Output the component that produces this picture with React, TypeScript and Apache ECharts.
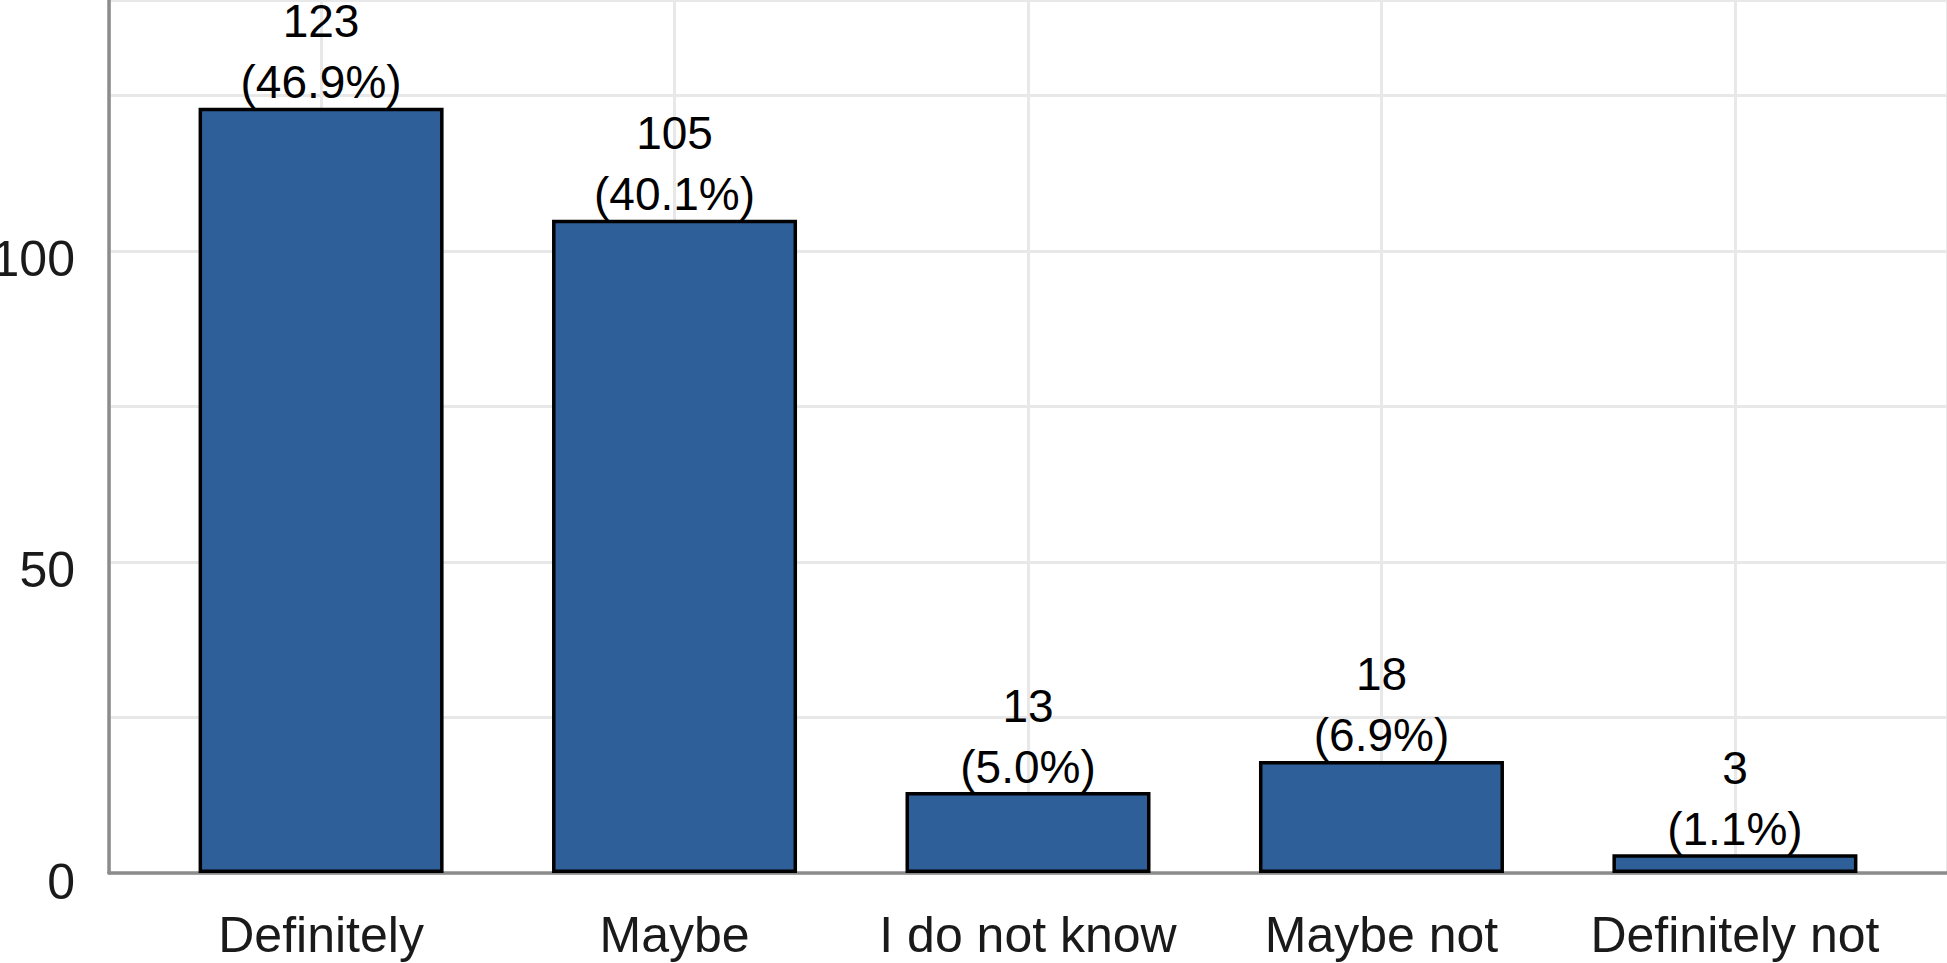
import React, { useEffect, useRef } from "react";
import * as echarts from "echarts";

const categories = ["Definitely", "Maybe", "I do not know", "Maybe not", "Definitely not"];
const counts = [123, 105, 13, 18, 3];
const percents = ["46.9%", "40.1%", "5.0%", "6.9%", "1.1%"];
const yLabelValues = [0, 50, 100];

export default function App() {
  const ref = useRef<HTMLDivElement>(null);
  useEffect(() => {
    if (!ref.current) return;
    const chart = echarts.init(ref.current, null, { renderer: "svg" });
    const font = "'Liberation Sans', Arial, sans-serif";
    chart.setOption({
      animation: false,
      backgroundColor: "#ffffff",
      grid: { left: 109, right: 0, top: 0, bottom: 90, containLabel: false, outerBoundsMode: "none" },
      xAxis: {
        type: "value",
        min: -0.6,
        max: 4.6,
        splitNumber: 5,
        axisLine: { show: true, onZero: false, lineStyle: { color: "#8c8c8c", width: 3.5 } },
        axisTick: { show: false },
        splitLine: { show: true, lineStyle: { color: "#e8e8e8", width: 3 } },
        axisLabel: {
          margin: 37,
          fontSize: 50,
          fontFamily: font,
          color: "#1a1a1a",
          showMinLabel: true,
          showMaxLabel: true,
          formatter: (v: number) => (Number.isInteger(v) && v >= 0 && v < categories.length ? categories[Math.abs(v)] : ""),
        },
      },
      yAxis: {
        type: "value",
        min: 0,
        max: 140.3,
        interval: 25,
        axisLine: { show: true, onZero: false, lineStyle: { color: "#8c8c8c", width: 3.5 } },
        axisTick: { show: false },
        splitLine: { show: true, lineStyle: { color: "#e8e8e8", width: 3 } },
        axisLabel: {
          margin: 34,
          fontSize: 50,
          fontFamily: font,
          color: "#1a1a1a",
          formatter: (v: number) => (yLabelValues.indexOf(v) >= 0 ? `{v|${v}}` : ""),
          rich: {
            v: { fontSize: 50, fontFamily: font, color: "#1a1a1a", padding: [17, 0, 0, 0] },
          },
        },
      },
      series: [
        {
          type: "bar",
          barWidth: 245,
          data: counts.map((c, i) => [i, c]),
          itemStyle: { color: "#2f5f98", borderColor: "#000000", borderWidth: 3.5 },
          label: {
            show: true,
            position: "top",
            distance: 0,
            offset: [0, 5],
            fontSize: 46,
            lineHeight: 61,
            fontFamily: font,
            color: "#000000",
            formatter: (p: any) => `${counts[p.dataIndex]}\n(${percents[p.dataIndex]})`,
          },
        },
      ],
    });
    return () => chart.dispose();
  }, []);
  return (
    <div
      ref={ref}
      style={{ position: "absolute", left: 0, top: 0, width: 1947, height: 963 }}
    />
  );
}
